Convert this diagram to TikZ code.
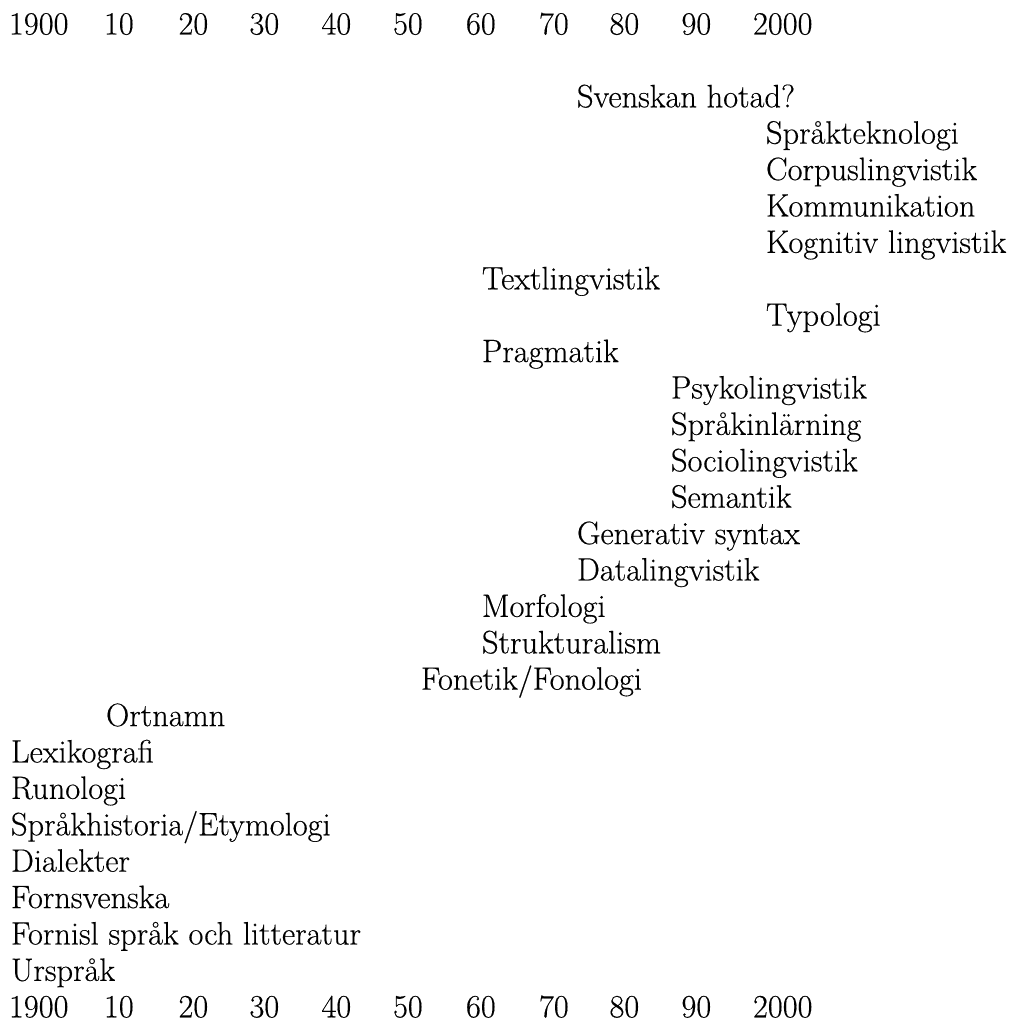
\documentclass[tikz,border=0pt]{standalone}
\usepackage{fontspec}
\setmainfont{Latin Modern Roman}[FakeBold=0.35, BoldFont={}, UprightFeatures={FakeBold=0.35}]
\begin{document}
\begin{tikzpicture}[x=1pt,y=1pt,
  lbl/.style={anchor=base west, inner sep=0pt, outer sep=0pt, font=\fontsize{32.4}{36}\selectfont}]
\useasboundingbox (0,0) rectangle (1013,1023);
\def\rowy#1{988.5-36.4*#1}
% top axis
\node[lbl] (t1900) at (9,{\rowy{0}}) {1900};
\node[lbl] (t10) at (104,{\rowy{0}}) {10};
\node[lbl] (t20) at (178.5,{\rowy{0}}) {20};
\node[lbl] (t30) at (249.5,{\rowy{0}}) {30};
\node[lbl] (t40) at (321.5,{\rowy{0}}) {40};
\node[lbl] (t50) at (393,{\rowy{0}}) {50};
\node[lbl] (t60) at (466,{\rowy{0}}) {60};
\node[lbl] (t70) at (539,{\rowy{0}}) {70};
\node[lbl] (t80) at (609.5,{\rowy{0}}) {80};
\node[lbl] (t90) at (681.5,{\rowy{0}}) {90};
\node[lbl] (t2000) at (753,{\rowy{0}}) {2000};
% entries
\node[lbl] (svenskan) at (577,{\rowy{2}}) {Svenskan hotad?};
\node[lbl] (spraktek) at (766,{\rowy{3}}) {Språkteknologi};
\node[lbl] (corpus) at (766,{\rowy{4}}) {Corpuslingvistik};
\node[lbl] (komm) at (766,{\rowy{5}}) {Kommunikation};
\node[lbl] (kogn) at (766,{\rowy{6}}) {Kognitiv lingvistik};
\node[lbl] (textl) at (482,{\rowy{7}}) {Textlingvistik};
\node[lbl] (typo) at (766,{\rowy{8}}) {Typologi};
\node[lbl] (prag) at (482,{\rowy{9}}) {Pragmatik};
\node[lbl] (psyko) at (671,{\rowy{10}}) {Psykolingvistik};
\node[lbl] (sprinl) at (671,{\rowy{11}}) {Språkinlärning};
\node[lbl] (socio) at (671,{\rowy{12}}) {Sociolingvistik};
\node[lbl] (seman) at (671,{\rowy{13}}) {Semantik};
\node[lbl] (gener) at (577,{\rowy{14}}) {Generativ syntax};
\node[lbl] (datal) at (577,{\rowy{15}}) {Datalingvistik};
\node[lbl] (morf) at (482,{\rowy{16}}) {Morfologi};
\node[lbl] (strukt) at (482,{\rowy{17}}) {Strukturalism};
\node[lbl] (fonet) at (421,{\rowy{18}}) {Fonetik/Fonologi};
\node[lbl] (ortn) at (106,{\rowy{19}}) {Ortnamn};
\node[lbl] (lexik) at (11,{\rowy{20}}) {Lexikografi};
\node[lbl] (runol) at (11,{\rowy{21}}) {Runologi};
\node[lbl] (sprhist) at (11,{\rowy{22}}) {Språkhistoria/Etymologi};
\node[lbl] (dial) at (11,{\rowy{23}}) {Dialekter};
\node[lbl] (fornsv) at (11,{\rowy{24}}) {Fornsvenska};
\node[lbl] (fornisl) at (11,{\rowy{25}}) {Fornisl språk och litteratur};
\node[lbl] (urspr) at (11,{\rowy{26}}) {Urspråk};
% bottom axis
\node[lbl] (b1900) at (9,{\rowy{27}}) {1900};
\node[lbl] (b10) at (104,{\rowy{27}}) {10};
\node[lbl] (b20) at (178.5,{\rowy{27}}) {20};
\node[lbl] (b30) at (249.5,{\rowy{27}}) {30};
\node[lbl] (b40) at (321.5,{\rowy{27}}) {40};
\node[lbl] (b50) at (393,{\rowy{27}}) {50};
\node[lbl] (b60) at (466,{\rowy{27}}) {60};
\node[lbl] (b70) at (539,{\rowy{27}}) {70};
\node[lbl] (b80) at (609.5,{\rowy{27}}) {80};
\node[lbl] (b90) at (681.5,{\rowy{27}}) {90};
\node[lbl] (b2000) at (753,{\rowy{27}}) {2000};
\end{tikzpicture}
\end{document}
